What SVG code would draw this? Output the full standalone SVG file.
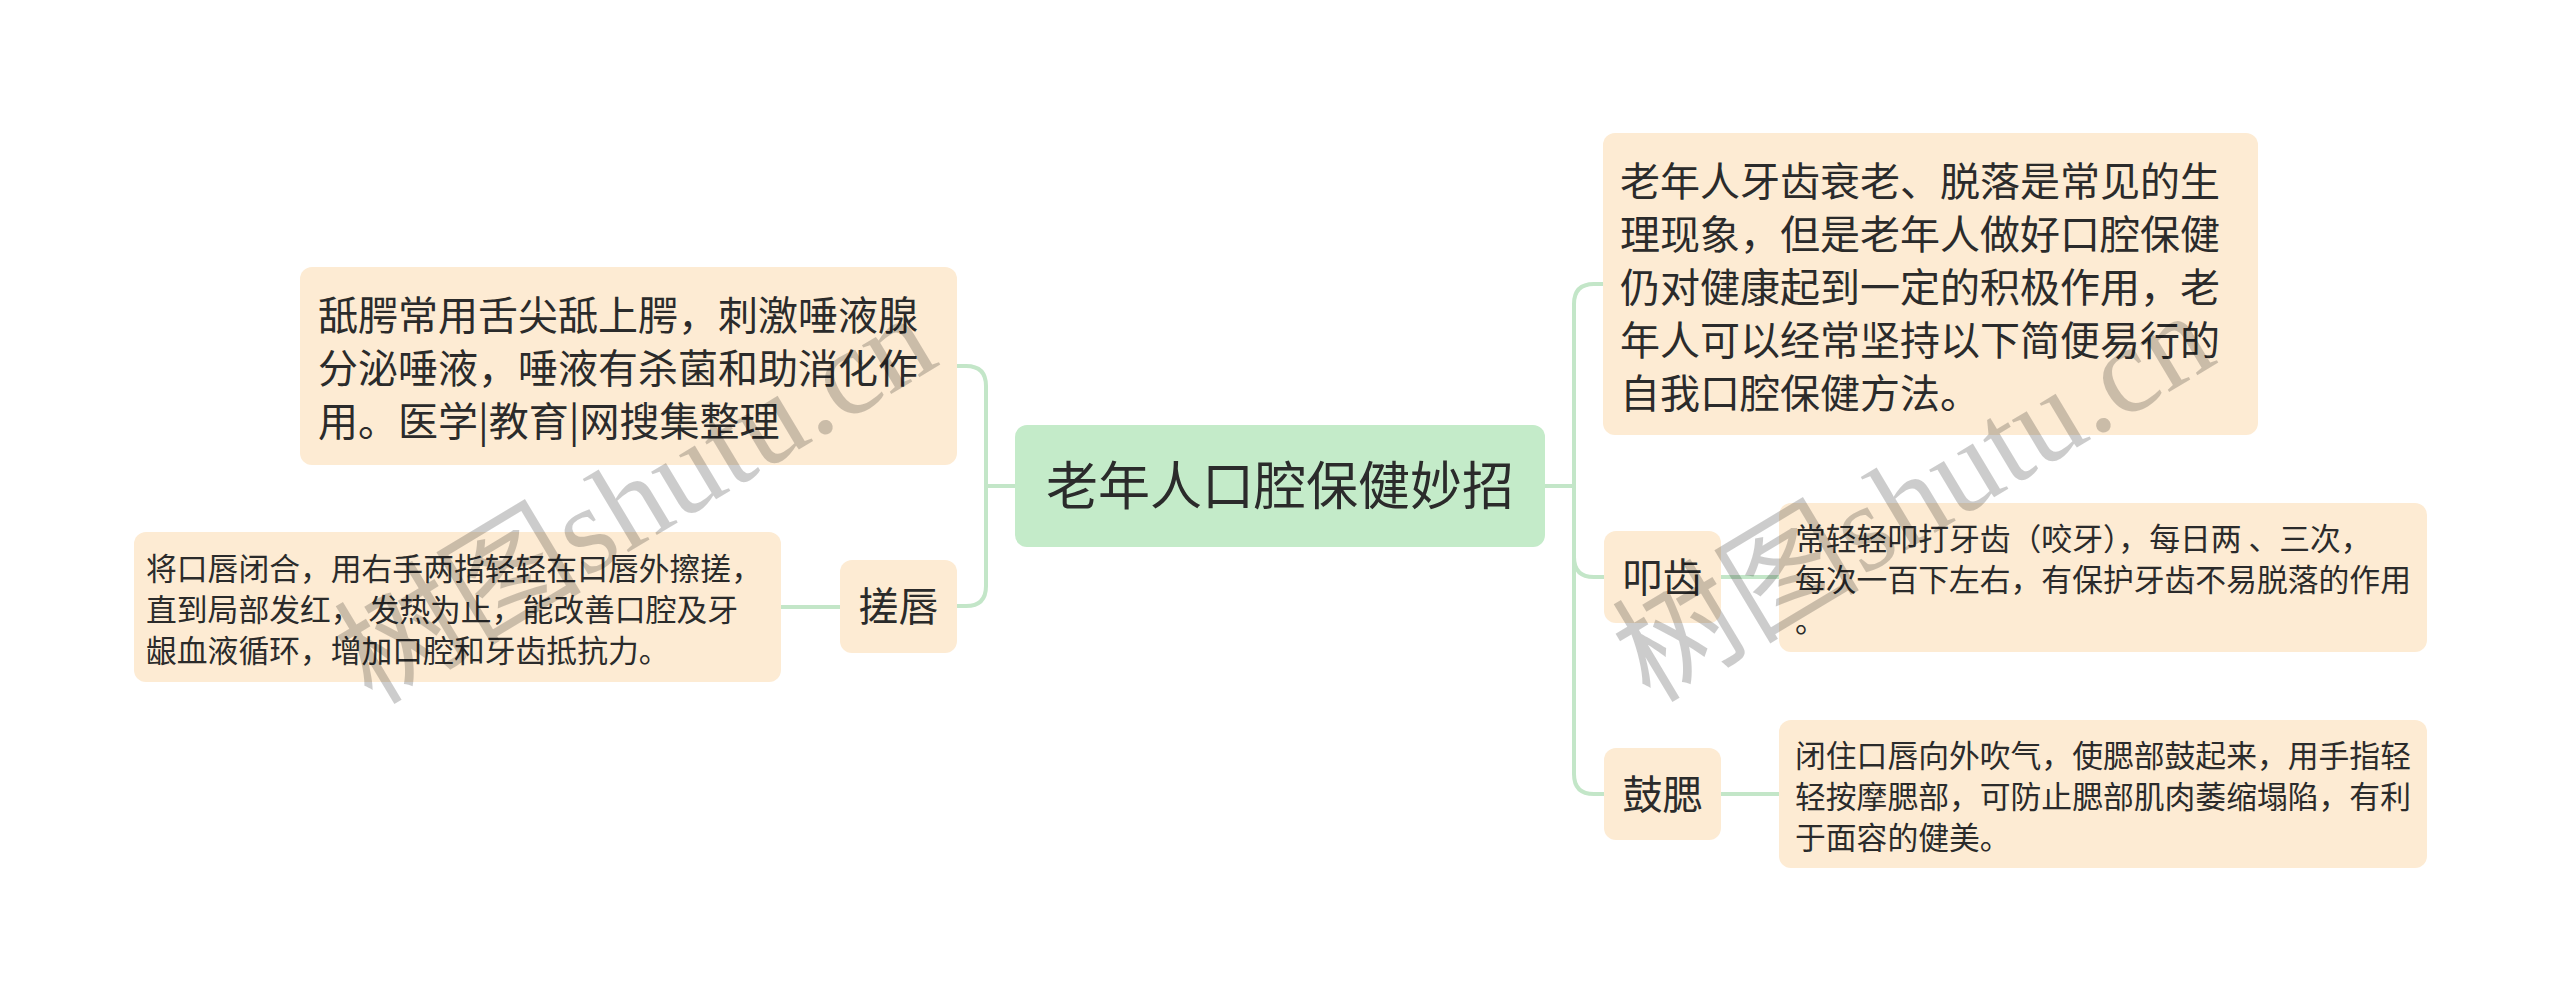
<svg xmlns="http://www.w3.org/2000/svg" width="2560" height="1002" viewBox="0 0 2560 1002">
<style>
.bg{fill:#ffffff}
.root{fill:#c4ebc9}
.box{fill:#fdebd3}
.t{font-family:"Noto Sans CJK SC","Noto Sans",sans-serif;fill:#2b2b2b}
.t52{font-size:52px}
.t40{font-size:40px}
.t30{font-size:30.8px}
.c{text-anchor:middle}
.link{fill:none;stroke:#c3e6c8;stroke-width:4;stroke-linecap:round}
.wm{font-family:"Liberation Serif","Noto Sans CJK SC",serif;font-size:124px;fill:#000;fill-opacity:0.2}
</style>
<rect class="bg" x="0" y="0" width="2560" height="1002"/>
<g id="connectors">
<path class="link" d="M1015 486 H986 M986 486 V386 Q986 366 966 366 H957 M986 486 V586 Q986 606 966 606 H957"/>
<path class="link" d="M1545 486 H1574 M1574 486 V304 Q1574 284 1594 284 H1603 M1574 486 V557 Q1574 577 1594 577 H1604 M1574 486 V774 Q1574 794 1594 794 H1604"/>
<path class="link" d="M781 607 H840"/>
<path class="link" d="M1721 577 H1779"/>
<path class="link" d="M1721 794 H1779"/>
</g>
<g id="root">
<rect class="root" x="1015" y="425" width="530" height="122" rx="12"/>
<text class="t t52 c" x="1280" y="505">老年人口腔保健妙招</text>
</g>
<g id="node-tiane">
<rect class="box" x="300" y="267" width="657" height="198" rx="12"/>
<text class="t t40" x="318" y="330">舐腭常用舌尖舐上腭，刺激唾液腺</text>
<text class="t t40" x="318" y="383">分泌唾液，唾液有杀菌和助消化作</text>
<text class="t t40" x="318" y="436">用。医学|教育|网搜集整理</text>
</g>
<g id="node-cuochun">
<rect class="box" x="840" y="560" width="117" height="93" rx="12"/>
<text class="t t40 c" x="898.5" y="621">搓唇</text>
</g>
<g id="node-cuochun-detail">
<rect class="box" x="134" y="532" width="647" height="150" rx="12"/>
<text class="t t30" x="146" y="580">将口唇闭合，用右手两指轻轻在口唇外擦搓，</text>
<text class="t t30" x="146" y="621">直到局部发红， 发热为止，能改善口腔及牙</text>
<text class="t t30" x="146" y="662">龈血液循环，增加口腔和牙齿抵抗力。</text>
</g>
<g id="node-intro">
<rect class="box" x="1603" y="133" width="655" height="302" rx="12"/>
<text class="t t40" x="1620" y="196">老年人牙齿衰老、脱落是常见的生</text>
<text class="t t40" x="1620" y="249">理现象，但是老年人做好口腔保健</text>
<text class="t t40" x="1620" y="302">仍对健康起到一定的积极作用，老</text>
<text class="t t40" x="1620" y="355">年人可以经常坚持以下简便易行的</text>
<text class="t t40" x="1620" y="408">自我口腔保健方法。</text>
</g>
<g id="node-kouchi">
<rect class="box" x="1604" y="531" width="117" height="92" rx="12"/>
<text class="t t40 c" x="1662.5" y="592">叩齿</text>
</g>
<g id="node-kouchi-detail">
<rect class="box" x="1779" y="503" width="648" height="149" rx="12"/>
<text class="t t30" x="1795" y="550">常轻轻叩打牙齿（咬牙），每日两 、三次，</text>
<text class="t t30" x="1795" y="591">每次一百下左右，有保护牙齿不易脱落的作用</text>
<text class="t t30" x="1795" y="632">。</text>
</g>
<g id="node-gusai">
<rect class="box" x="1604" y="748" width="117" height="92" rx="12"/>
<text class="t t40 c" x="1662.5" y="809">鼓腮</text>
</g>
<g id="node-gusai-detail">
<rect class="box" x="1779" y="720" width="648" height="148" rx="12"/>
<text class="t t30" x="1795" y="767">闭住口唇向外吹气，使腮部鼓起来，用手指轻</text>
<text class="t t30" x="1795" y="808">轻按摩腮部，可防止腮部肌肉萎缩塌陷，有利</text>
<text class="t t30" x="1795" y="849">于面容的健美。</text>
</g>
<g id="watermark">
<text class="wm" transform="translate(372 706) rotate(-31)">树图shutu.cn</text>
<text class="wm" transform="translate(1650 704) rotate(-31)">树图shutu.cn</text>
</g>
</svg>
